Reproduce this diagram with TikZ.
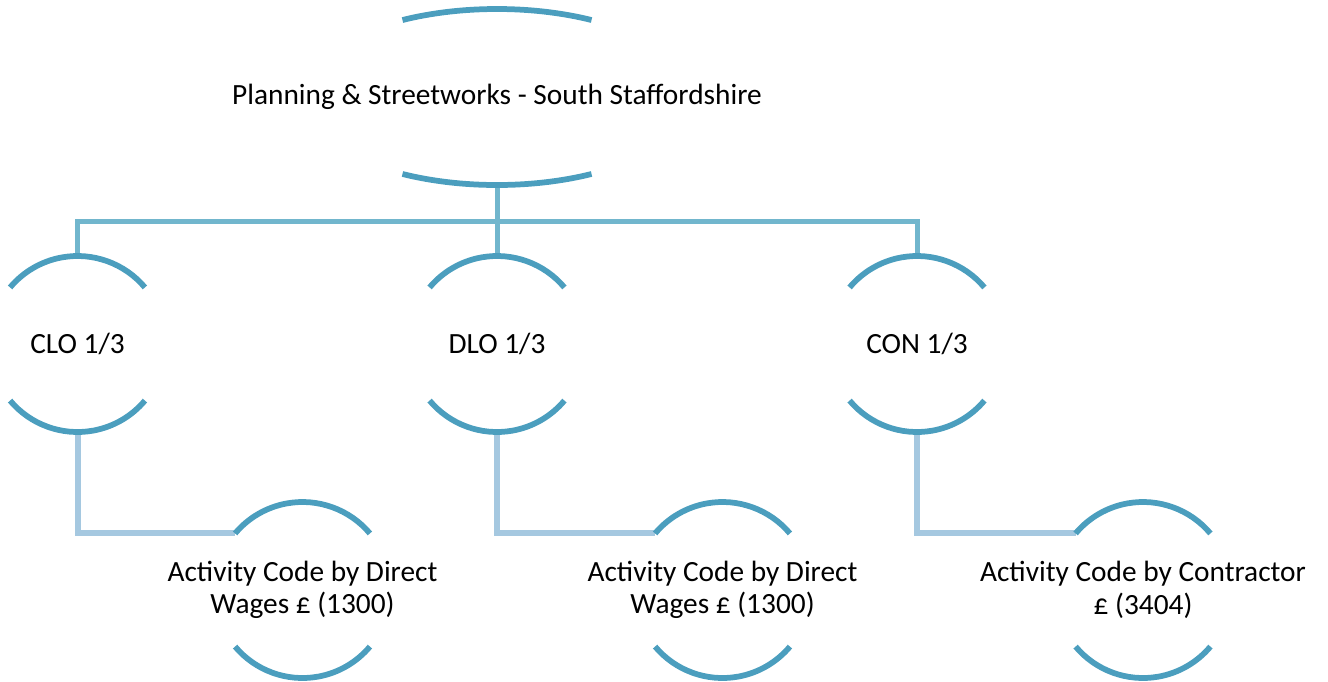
\documentclass[tikz,border=0pt]{standalone}
\usepackage{fontspec}
\setmainfont{Carlito}
\usepackage{xcolor}
\usepackage{tikz}

\definecolor{arcblue}{RGB}{75,158,190}
\definecolor{linkblue}{RGB}{113,182,205}
\definecolor{subblue}{RGB}{165,200,224}

\begin{document}
\begin{tikzpicture}[x=0.02cm,y=0.02cm,
  box/.style={minimum height=3.52cm,inner sep=0pt,align=center,font=\fontsize{16.7}{18.5}\selectfont},
  arcline/.style={arcblue,line width=0.115cm},
  toplink/.style={linkblue,line width=0.1cm},
  sublink/.style={subblue,line width=0.12cm}]
\def\lens#1{\draw[arcline] ([shift={(40:88)}]#1.center) arc[start angle=40,end angle=140,radius=88]
    ([shift={(220:88)}]#1.center) arc[start angle=220,end angle=320,radius=88];}
  \useasboundingbox (0,0) rectangle (1328,-681);
  \node[box] (top) at (497,-97) {Planning \& Streetworks - South Staffordshire};
  \node[box] (clo) at (77.5,-344) {CLO 1/3};
  \node[box] (dlo) at (497,-344) {DLO 1/3};
  \node[box] (con) at (917,-344) {CON 1/3};
  \node[box] (clowage) at (302.5,-590) {Activity Code by Direct\\Wages £ (1300)};
  \node[box] (dlowage) at (722.5,-590) {Activity Code by Direct\\Wages £ (1300)};
  \node[box] (concode) at (1143,-590) {Activity Code by Contractor\\£ (3404)};
  \draw[toplink] (top.south) -- ++(0,-36) -| (clo.north);
  \draw[toplink] (top.south) -- ++(0,-36) -| (con.north);
  \draw[toplink] (top.south) -- (dlo.north);
  \draw[sublink] (clo.south) |- ([shift={(140:88)}]clowage.center);
  \draw[sublink] (dlo.south) |- ([shift={(140:88)}]dlowage.center);
  \draw[sublink] (con.south) |- ([shift={(140:88)}]concode.center);
  \draw[arcline] ([shift={(61:195 and 88)}]top.center) arc[start angle=61,end angle=119,x radius=195,y radius=88]
    ([shift={(241:195 and 88)}]top.center) arc[start angle=241,end angle=299,x radius=195,y radius=88];
  \lens{clo} \lens{dlo} \lens{con}
  \lens{clowage} \lens{dlowage} \lens{concode}
\end{tikzpicture}
\end{document}
